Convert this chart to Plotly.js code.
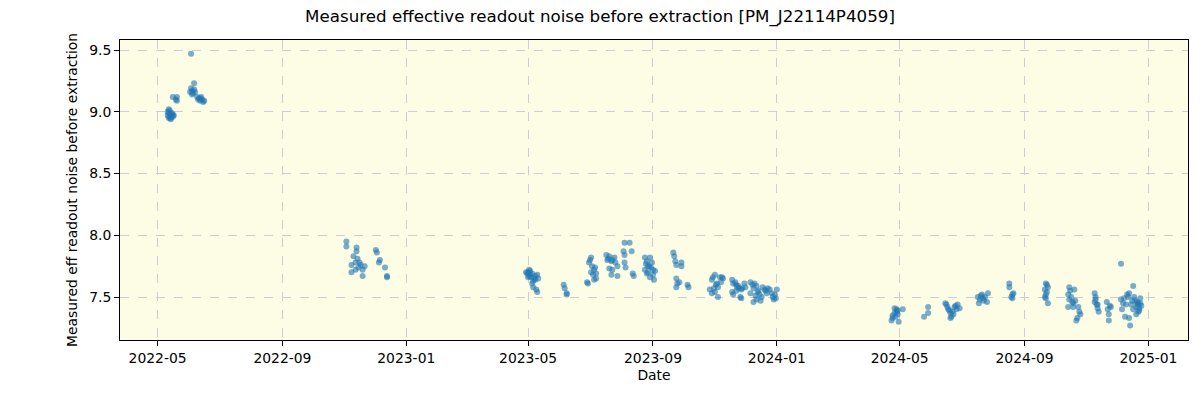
<!DOCTYPE html>
<html>
<head>
<meta charset="utf-8">
<script src="https://cdn.plot.ly/plotly-3.0.1.min.js"></script>
<style>html,body{margin:0;padding:0;background:#fff;}#chart{width:1200px;height:400px;}</style>
</head>
<body>
<div id="chart"></div>
<script>
// Observation dates and measured effective readout noise before extraction
const dates = [
 // 2022-05
 '2022-05-11','2022-05-11','2022-05-12','2022-05-12','2022-05-13','2022-05-13','2022-05-14','2022-05-14','2022-05-15','2022-05-15','2022-05-16','2022-05-16','2022-05-17','2022-05-12','2022-05-14',
 '2022-05-16','2022-05-20','2022-05-20','2022-05-19',
 // 2022-06
 '2022-06-03','2022-06-06','2022-06-02','2022-06-03','2022-06-04','2022-06-05','2022-06-06','2022-06-07','2022-06-04',
 '2022-06-09','2022-06-10','2022-06-11','2022-06-12','2022-06-13','2022-06-14','2022-06-15','2022-06-16','2022-06-12',
 // 2022-11
 '2022-11-03','2022-11-03','2022-11-13','2022-11-13','2022-11-10','2022-11-08','2022-11-08','2022-11-16','2022-11-15','2022-11-19','2022-11-19','2022-11-21','2022-11-12','2022-11-14','2022-11-17','2022-11-12',
 // 2022-12
 '2022-12-02','2022-12-03','2022-12-06','2022-12-05','2022-12-11','2022-12-13','2022-12-13',
 // 2023-05
 '2023-04-30','2023-05-01','2023-05-02','2023-05-03','2023-05-04','2023-05-05','2023-05-07','2023-05-08','2023-05-10','2023-05-11','2023-05-05','2023-05-06','2023-05-09','2023-05-10','2023-05-01','2023-04-29','2023-05-03','2023-05-06','2023-05-02','2023-05-08',
 // 2023-06
 '2023-06-05','2023-06-06','2023-06-08','2023-06-08',
 // 2023-07 a
 '2023-07-02','2023-07-01','2023-06-30','2023-07-03','2023-07-02','2023-07-05','2023-07-07','2023-07-07','2023-07-05','2023-06-28','2023-06-29','2023-07-04','2023-07-06',
 // 2023-07 b
 '2023-07-17','2023-07-20','2023-07-19','2023-07-22','2023-07-23','2023-07-26','2023-07-28','2023-07-23','2023-07-22','2023-07-28','2023-07-25','2023-07-20','2023-07-18',
 // 2023-08 a
 '2023-08-04','2023-08-09','2023-08-03','2023-08-04','2023-08-04','2023-08-05','2023-08-11','2023-08-12','2023-08-13',
 // 2023-08 b
 '2023-08-24','2023-08-26','2023-08-27','2023-08-29','2023-08-31','2023-09-01','2023-09-01','2023-09-02','2023-08-24','2023-08-26','2023-08-28','2023-08-29','2023-08-25','2023-09-03','2023-08-30','2023-08-27',
 // 2023-09/10
 '2023-09-21','2023-09-22','2023-09-23','2023-09-24','2023-09-29','2023-09-29','2023-09-24','2023-09-25','2023-09-24','2023-09-27','2023-10-05','2023-10-06',
 // 2023-10/11
 '2023-10-29','2023-10-30','2023-11-01','2023-11-06','2023-11-08','2023-11-09','2023-11-03','2023-11-04','2023-10-27','2023-10-29','2023-11-01','2023-11-04','2023-10-31','2023-11-07','2023-11-02',
 // 2023-11/12
 '2023-11-18','2023-11-19','2023-11-21','2023-11-22','2023-11-24','2023-11-25','2023-11-27','2023-11-28','2023-11-18','2023-11-19','2023-11-26','2023-11-27','2023-12-01','2023-11-22','2023-11-30','2023-11-23',
 // 2023-12
 '2023-12-06','2023-12-08','2023-12-09','2023-12-10','2023-12-12','2023-12-13','2023-12-15','2023-12-17','2023-12-12','2023-12-11','2023-12-18','2023-12-20','2023-12-22','2023-12-23','2023-12-25','2023-12-27','2023-12-28','2023-12-29','2023-12-30','2023-12-09','2023-12-06','2023-12-31','2023-12-21','2024-01-01','2023-12-14','2023-12-16',
 // 2024-04/05
 '2024-04-23','2024-04-24','2024-04-26','2024-04-28','2024-04-29','2024-04-30','2024-04-28','2024-05-04','2024-04-26','2024-04-24','2024-04-27','2024-04-29',
 '2024-05-25','2024-05-29','2024-05-29',
 // 2024-06
 '2024-06-15','2024-06-17','2024-06-18','2024-06-20','2024-06-21','2024-06-22','2024-06-24','2024-06-26','2024-06-27','2024-06-29','2024-06-20','2024-06-16','2024-06-25','2024-06-23','2024-06-19',
 // 2024-07
 '2024-07-17','2024-07-19','2024-07-21','2024-07-22','2024-07-24','2024-07-26','2024-07-27','2024-07-18','2024-07-23','2024-07-20',
 // 2024-08
 '2024-08-17','2024-08-17','2024-08-20','2024-08-21','2024-08-20','2024-08-19',
 // 2024-09
 '2024-09-22','2024-09-23','2024-09-21','2024-09-22','2024-09-22','2024-09-24','2024-09-24','2024-09-23','2024-09-21',
 // 2024-10
 '2024-10-15','2024-10-16','2024-10-14','2024-10-15','2024-10-19','2024-10-14','2024-10-20','2024-10-21','2024-10-24','2024-10-25','2024-10-26','2024-10-22','2024-10-23','2024-10-19','2024-10-17','2024-10-18',
 // 2024-11
 '2024-11-09','2024-11-10','2024-11-09','2024-11-11','2024-11-12','2024-11-13','2024-11-21','2024-11-22','2024-11-23','2024-11-23','2024-11-25','2024-11-12','2024-11-24','2024-11-10',
 // 2024-12
 '2024-12-05',
 '2024-12-05','2024-12-07','2024-12-08','2024-12-10','2024-12-12','2024-12-13','2024-12-15','2024-12-17','2024-12-17','2024-12-18','2024-12-20','2024-12-22','2024-12-23','2024-12-24','2024-12-09','2024-12-13','2024-12-14','2024-12-06','2024-12-20','2024-12-22','2024-12-19','2024-12-21','2024-12-25','2024-12-24','2024-12-11','2024-12-16','2024-12-23','2024-12-21'
];
const noise = [
 // 2022-05
 9.00,8.97,8.95,8.99,8.96,9.01,8.98,8.95,8.97,8.99,8.96,8.98,8.97,9.02,8.94,
 9.12,9.12,9.09,9.10,
 // 2022-06
 9.47,9.23,9.16,9.19,9.17,9.15,9.18,9.16,9.14,
 9.12,9.10,9.11,9.09,9.12,9.10,9.08,9.09,9.11,
 // 2022-11
 7.95,7.91,7.90,7.87,7.83,7.76,7.70,7.78,7.74,7.72,7.67,7.75,7.78,7.81,7.76,7.72,
 // 2022-12
 7.88,7.86,7.80,7.78,7.74,7.67,7.66,
 // 2023-05
 7.69,7.70,7.72,7.68,7.66,7.69,7.65,7.67,7.68,7.65,7.61,7.58,7.56,7.54,7.66,7.70,7.71,7.63,7.67,7.64,
 // 2023-06
 7.60,7.57,7.53,7.52,
 // 2023-07 a
 7.82,7.80,7.78,7.75,7.70,7.72,7.69,7.65,7.64,7.62,7.61,7.68,7.74,
 // 2023-07 b
 7.84,7.83,7.81,7.79,7.80,7.78,7.75,7.72,7.68,7.67,7.82,7.73,7.80,
 // 2023-08 a
 7.94,7.94,7.87,7.84,7.78,7.74,7.87,7.69,7.67,
 // 2023-08 b
 7.82,7.79,7.75,7.82,7.78,7.72,7.68,7.64,7.72,7.69,7.75,7.66,7.77,7.71,7.74,7.70,
 // 2023-09/10
 7.86,7.83,7.79,7.76,7.78,7.75,7.65,7.61,7.58,7.62,7.60,7.58,
 // 2023-10/11
 7.64,7.66,7.68,7.66,7.66,7.65,7.61,7.58,7.56,7.53,7.54,7.50,7.57,7.62,7.60,
 // 2023-11/12
 7.64,7.61,7.62,7.60,7.59,7.57,7.56,7.57,7.54,7.52,7.50,7.49,7.58,7.55,7.61,7.58,
 // 2023-12
 7.62,7.60,7.57,7.61,7.59,7.54,7.52,7.50,7.48,7.51,7.58,7.56,7.53,7.57,7.56,7.53,7.50,7.48,7.52,7.46,7.53,7.49,7.55,7.56,7.55,7.47,
 // 2024-04/05
 7.31,7.33,7.41,7.38,7.36,7.30,7.40,7.40,7.37,7.35,7.34,7.39,
 7.34,7.42,7.37,
 // 2024-06
 7.45,7.42,7.40,7.37,7.34,7.38,7.42,7.40,7.44,7.41,7.33,7.44,7.43,7.36,7.39,
 // 2024-07
 7.50,7.48,7.52,7.49,7.50,7.46,7.53,7.45,7.47,7.51,
 // 2024-08
 7.61,7.58,7.52,7.53,7.49,7.50,
 // 2024-09
 7.61,7.60,7.56,7.52,7.49,7.45,7.58,7.54,7.50,
 // 2024-10
 7.58,7.55,7.52,7.48,7.45,7.42,7.56,7.47,7.42,7.38,7.36,7.31,7.33,7.42,7.50,7.46,
 // 2024-11
 7.53,7.50,7.46,7.44,7.41,7.38,7.46,7.40,7.36,7.31,7.42,7.44,7.43,7.48,
 // 2024-12
 7.77,
 7.48,7.45,7.49,7.44,7.50,7.53,7.44,7.40,7.59,7.50,7.42,7.45,7.41,7.49,7.34,7.33,7.27,7.40,7.36,7.38,7.47,7.46,7.43,7.45,7.52,7.47,7.39,7.44
];

const yTickVals = [7.5, 8.0, 8.5, 9.0, 9.5];
const yTickText = ['7.5', '8.0', '8.5', '9.0', '9.5'];

const trace = {
  type: 'scatter',
  mode: 'markers',
  x: dates,
  y: noise,
  marker: {color: '#1f77b4', size: 6, opacity: 0.6, line: {width: 0}},
  hoverinfo: 'x+y'
};

const fontFam = 'DejaVu Sans, sans-serif';
const layout = {
  width: 1200, height: 400,
  margin: {l: 120, r: 12, t: 40, b: 60},
  paper_bgcolor: '#ffffff',
  plot_bgcolor: '#fdfce4',
  showlegend: false,
  font: {family: fontFam, size: 13.9, color: '#000'},
  title: {
    text: 'Measured effective readout noise before extraction [PM_J22114P4059]',
    font: {family: fontFam, size: 16.7, color: '#000'},
    x: 0.5, xref: 'container', xanchor: 'center',
    y: 1 - 16/400, yref: 'container', yanchor: 'middle'
  },
  xaxis: {
    type: 'date',
    range: ['2022-03-25', '2025-02-09'],
    tick0: '2022-01-01', dtick: 'M4', tickformat: '%Y-%m',
    ticks: 'outside', ticklen: 5, tickcolor: '#000', tickwidth: 1,
    showline: true, mirror: true, linecolor: '#000', linewidth: 1,
    showgrid: true, gridcolor: '#cdcdd6', griddash: 'dash', gridwidth: 1,
    zeroline: false,
    tickfont: {family: fontFam, size: 13.9, color: '#000'},
    title: {text: 'Date', font: {family: fontFam, size: 13.9, color: '#000'}, standoff: 5}
  },
  yaxis: {
    range: [7.152, 9.581],
    tickvals: yTickVals, ticktext: yTickText,
    ticks: 'outside', ticklen: 5, tickcolor: '#000', tickwidth: 1,
    showline: true, mirror: true, linecolor: '#000', linewidth: 1,
    showgrid: true, gridcolor: '#cdcdd6', griddash: 'dash', gridwidth: 1,
    zeroline: false,
    tickfont: {family: fontFam, size: 13.9, color: '#000'},
    title: {text: 'Measured eff readout noise before extraction', font: {family: fontFam, size: 13.9, color: '#000'}, standoff: 8}
  }
};

Plotly.newPlot('chart', [trace], layout, {displayModeBar: false, staticPlot: true});
</script>
</body>
</html>
